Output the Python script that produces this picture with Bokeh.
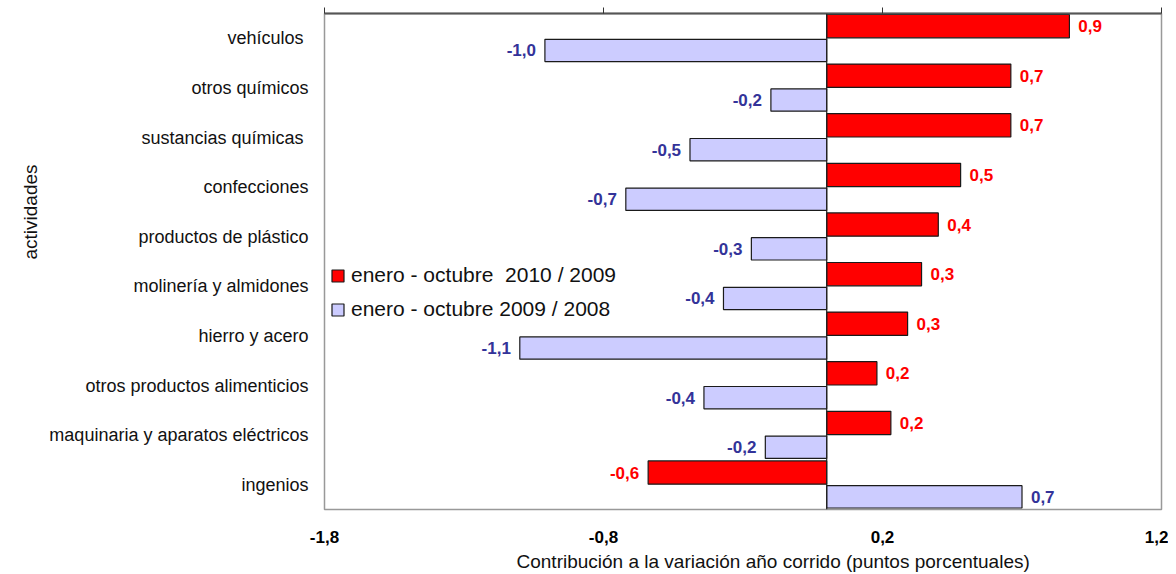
from bokeh.plotting import figure
from bokeh.models import (ColumnDataSource, FactorRange, LinearAxis, FixedTicker,
                          Span, Legend, LegendItem, Title, CustomJSTickFormatter)
from bokeh.transform import dodge
from bokeh.embed import file_html
from bokeh.resources import INLINE

categories = ["vehículos ", "otros químicos", "sustancias químicas ", "confecciones",
              "productos de plástico", "molinería y almidones", "hierro y acero",
              "otros productos alimenticios", "maquinaria y aparatos eléctricos", "ingenios"]
serie_2010 = [0.87, 0.66, 0.66, 0.48, 0.40, 0.34, 0.29, 0.18, 0.23, -0.64]
serie_2009 = [-1.01, -0.20, -0.49, -0.72, -0.27, -0.37, -1.10, -0.44, -0.22, 0.70]
label_2010 = "enero - octubre  2010 / 2009"
label_2009 = "enero - octubre 2009 / 2008"
x_ticks = [-1.8, -0.8, 0.2, 1.2]

RED = "#FF0000"
LAV = "#CCCCFF"
BLUE_TXT = "#333399"
FONT = "Liberation Sans"


def fmt(v):
    return ("%.1f" % v).replace(".", ",")


def src(vals):
    return ColumnDataSource(dict(
        cat=categories, val=vals, lab=[fmt(v) for v in vals],
        lx=[v + (0.032 if v >= 0 else -0.032) for v in vals],
        align=["left" if v >= 0 else "right" for v in vals]))


s10 = src(serie_2010)
s09 = src(serie_2009)

p = figure(width=1168, height=574, output_backend="svg", toolbar_location=None,
           x_range=(-1.8, 1.2), y_range=FactorRange(factors=categories[::-1], range_padding=0),
           min_border_left=324, min_border_right=7, min_border_top=13, min_border_bottom=0)

r10 = p.hbar(y=dodge("cat", 0.245, range=p.y_range), right="val", left=0, height=0.47,
             source=s10, fill_color=RED, line_color="#1a1a1a", line_width=1.2)
r09 = p.hbar(y=dodge("cat", -0.245, range=p.y_range), right="val", left=0, height=0.45,
             source=s09, fill_color=LAV, line_color="#1a1a1a", line_width=1.2)

for s, off, col in ((s10, 0.245, RED), (s09, -0.245, BLUE_TXT)):
    p.text(x="lx", y=dodge("cat", off, range=p.y_range), text="lab", source=s,
           text_align="align", text_baseline="middle", text_color=col,
           text_font_size="17px", text_font_style="bold",
           text_font={"value": FONT})

p.add_layout(Span(location=0, dimension="height", line_color="#222222", line_width=1.2))

p.grid.visible = False
p.outline_line_color = "#999999"
p.outline_line_width = 1.5

xa = p.xaxis[0]
xa.ticker = FixedTicker(ticks=x_ticks)
xa.formatter = CustomJSTickFormatter(code="return tick.toFixed(1).replace('.', ',');")
xa.axis_line_color = None
xa.major_tick_line_color = None
xa.minor_tick_line_color = None
xa.major_label_standoff = 15
xa.major_label_text_font = FONT
xa.major_label_text_font_size = "17px"
xa.major_label_text_font_style = "bold"
xa.major_label_text_color = "black"

top = LinearAxis(ticker=FixedTicker(ticks=x_ticks), axis_line_color="#555555",
                 axis_line_width=2, major_tick_line_color="#333333", major_tick_out=6,
                 major_tick_in=0, minor_tick_line_color=None,
                 formatter=CustomJSTickFormatter(code="return '';"),
                 major_label_text_font_size="1px", major_label_standoff=0)
p.add_layout(top, "above")

ya = p.yaxis[0]
ya.axis_line_color = None
ya.major_tick_line_color = None
ya.minor_tick_line_color = None
ya.major_label_standoff = 10
ya.major_label_text_font = FONT
ya.major_label_text_font_size = "18px"
ya.major_label_text_color = "#111111"

p.add_layout(Title(text="Contribución a la variación año corrido (puntos porcentuales)",
                   align="left", offset=192, text_font=FONT, text_font_size="19px",
                   text_font_style="normal", text_color="#111111", standoff=6), "below")
p.add_layout(Title(text="actividades", align="left", offset=250, text_font=FONT,
                   text_font_size="19px", text_font_style="normal", text_color="#111111",
                   standoff=12), "left")

legend = Legend(items=[LegendItem(label=label_2010, renderers=[r10]),
                       LegendItem(label=label_2009, renderers=[r09])],
                location=(6, 188), border_line_color=None, background_fill_alpha=0,
                label_text_font=FONT, label_text_font_size="21px", label_height=21,
                label_text_color="#111111",
                glyph_width=15, glyph_height=15, spacing=10, padding=0,
                label_standoff=6)
p.add_layout(legend)

open("out.html", "w").write(file_html(p, INLINE))
